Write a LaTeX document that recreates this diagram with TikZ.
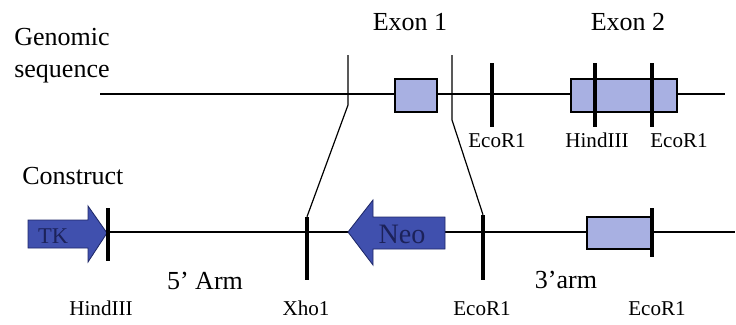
\documentclass[tikz,border=0pt]{standalone}
\usepackage{fontspec}
\setmainfont{Liberation Serif}
\usetikzlibrary{calc,positioning}

\definecolor{exonfill}{RGB}{168,176,226}
\definecolor{cassettefill}{RGB}{64,80,174}
\definecolor{cassetteline}{RGB}{30,40,104}
\definecolor{cassettetext}{RGB}{28,34,90}
\newcommand{\pxu}{0.025cm}

\begin{document}
\begin{tikzpicture}[x=0.025cm, y=-0.025cm,
  big/.style={font=\fontsize{18.5}{22}\selectfont, inner sep=0pt, anchor=base},
  small/.style={font=\fontsize{15}{18}\selectfont, inner sep=0pt, anchor=base},
  dna/.style={line width=0.85pt},
  cut/.style={fill=black, inner sep=0pt, minimum width=4*\pxu, minimum height=#1*\pxu},
  exon/.style={draw, line width=1pt, fill=exonfill, inner sep=0pt},
  cassette/.style={draw=cassetteline, fill=cassettefill, line width=0.6pt, line join=miter}]

\useasboundingbox (0,0) rectangle (736,324);

% genomic sequence
\coordinate (g-left) at (100,94);
\coordinate (g-right) at (725,94);
\draw[dna] (g-left) -- (g-right);
\node[exon, minimum width=42*\pxu, minimum height=33*\pxu] (ex1) at (416,95.5) {};
\node[exon, minimum width=106*\pxu, minimum height=33*\pxu] (ex2) at (624,95.5) {};
\node[cut=64] (g-eco1) at (492,95) {};
\node[cut=64] (g-hind) at (595,95) {};
\node[cut=64] (g-eco2) at (652,95) {};

% targeting construct
\coordinate (c-left) at (107,232);
\coordinate (c-right) at (735,232);
\draw[dna] (c-left) -- (c-right);
\filldraw[cassette] (28,220) -- (88,220) -- (88,206) -- (107,233) -- (88,262)
  -- (88,248) -- (28,248) -- cycle;
\node[font=\fontsize{16}{18}\selectfont, text=cassettetext, inner sep=0pt] (tk) at (53,236) {TK};
\filldraw[cassette] (348,232) -- (373,200) -- (373,217) -- (445,217) -- (445,249)
  -- (373,249) -- (373,265) -- cycle;
\node[font=\fontsize{20}{22}\selectfont, text=cassettetext, inner sep=0pt] (neo) at (402,234) {Neo};
\node[exon, minimum width=64*\pxu, minimum height=32*\pxu] (ex2c) at (619,233) {};
\node[cut=53] (c-hind) at (108,234.5) {};
\node[cut=63] (c-xho) at (307,248.5) {};
\node[cut=65] (c-eco1) at (483,247.5) {};
\node[cut=49] (c-eco2) at (652,232.5) {};

% homology arms
\coordinate (lo-top) at (348,55);
\coordinate (lo-bend) at (348,105);
\coordinate (ro-top) at (452,55);
\coordinate (ro-bend) at (452,120);
\draw[dna] (lo-top) -- (lo-bend) -- (c-xho.north);
\draw[dna] (ro-top) -- (ro-bend) -- (c-eco1.north);

% labels
\node[big, anchor=base west] (genomic) at (14,45) {Genomic};
\node[big, anchor=base west] (sequence) at (14,77) {sequence};
\node[big, anchor=base west] (construct) at (22,184) {Construct};
\node[big] (exon1) at (410,30) {Exon 1};
\node[big] (exon2) at (628,30) {Exon 2};
\node[big] (arm5) at (205,289) {5’ Arm};
\node[big] (arm3) at (566,288) {3’arm};

\node[small] (l-g-eco1) at (497,147) {EcoR1};
\node[small] (l-g-hind) at (597,147) {HindIII};
\node[small] (l-g-eco2) at (679,147) {EcoR1};
\node[small] (l-c-hind) at (101,315) {HindIII};
\node[small] (l-c-xho) at (306,315) {Xho1};
\node[small] (l-c-eco1) at (482,315) {EcoR1};
\node[small] (l-c-eco2) at (657,315) {EcoR1};
\end{tikzpicture}
\end{document}
